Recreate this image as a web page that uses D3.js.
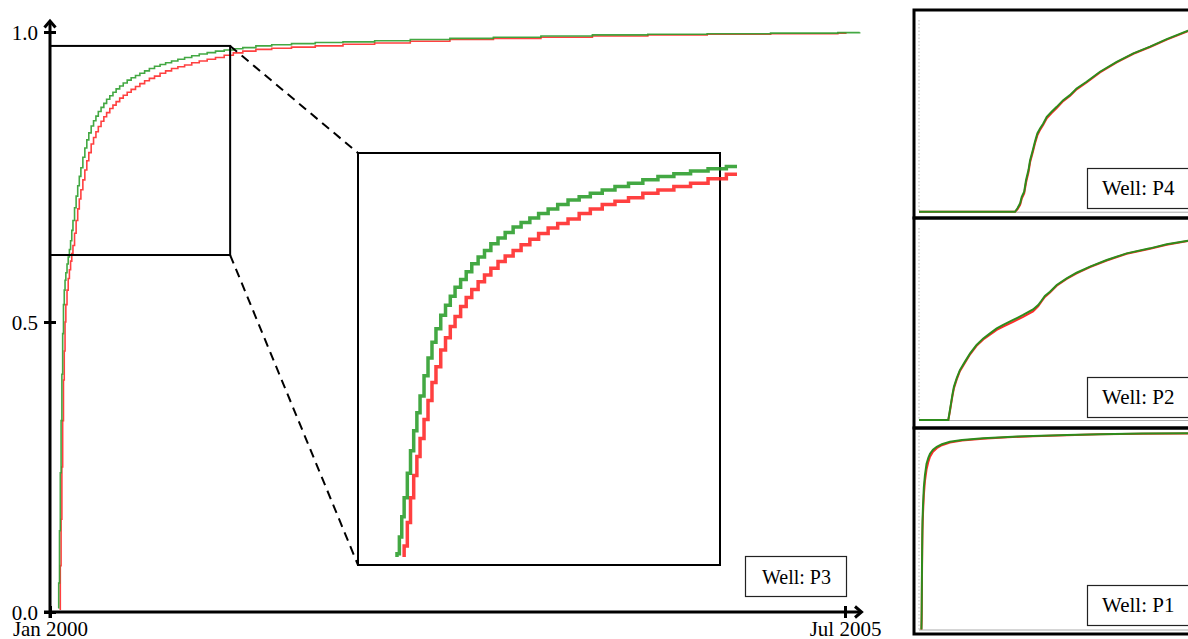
<!DOCTYPE html>
<html><head><meta charset="utf-8">
<script src="https://cdn.jsdelivr.net/npm/d3@7"></script>
<style>
body{margin:0;background:#fff}
svg{display:block}
svg text{font-family:"Liberation Serif","Tinos","Times New Roman","Times","Nimbus Roman","DejaVu Serif",serif !important;fill:#000}
</style>
</head><body>
<svg id="c" width="1188" height="639"></svg>
<script>
// ---------- DATA ----------
// Well P3 (main chart): day offsets from 1 Jan 2000 and cumulative values
const p3Days = [21,22,24,26,28,30,32,34,36,38,
  40,43,46,49,52,55,58,62,66,70,
  74,78,83,88,93,98,104,110,116,122,
  129,136,143,151,159,167,176,185,195,205,
  216,227,239,251,264,278,292,307,323,340,
  358,377,397,418,440,463,487,520,560,610,
  670,740,820,910,1010,1120,1240,1370,1510,1660,
  1820,1990,2010,2045];
const p3Green = [.007,.05,.14,.24,.33,.41,.48,.53,.555,.572,
  .585,.60,.612,.625,.640,.658,.675,.697,.717,.735,
  .751,.766,.784,.80,.814,.826,.838,.847,.855,.863,
  .870,.877,.884,.890,.896,.902,.907,.912,.917,.921,
  .925,.929,.933,.937,.941,.944,.947,.950,.953,.956,
  .959,.962,.9645,.967,.969,.971,.973,.976,.978,.980,
  .982,.983,.985,.987,.989,.991,.993,.995,.996,.997,
  .998,.999,.999,.9995];
const p3Red = [null,null,.005,.08,.16,.25,.33,.40,.45,.50,
  .53,.555,.575,.59,.605,.618,.632,.653,.675,.695,
  .712,.728,.745,.762,.778,.792,.807,.818,.828,.837,
  .846,.854,.861,.868,.874,.880,.886,.891,.896,.901,
  .906,.911,.916,.920,.924,.929,.933,.937,.940,.943,
  .947,.950,.953,.956,.960,.964,.967,.970,.972,.974,
  .976,.979,.981,.984,.987,.989,.991,.993,.995,.996,
  .997,.998,.9985,null];

// Side panels
const p4Days = [0,357,366,376,382,391,398,407,413,423,431,440,450,462,475,493,512,536,561,586,623,673,735,797,859,921,1000,1060];
const p4Green = [0,0,.018,.044,.078,.104,.165,.217,.269,.321,.365,.408,.434,.460,.495,.521,.547,.582,.608,.643,.678,.730,.782,.826,.861,.900,.944,.97];
const p4Red = [0,0,.012,.036,.068,.095,.152,.205,.258,.310,.356,.398,.427,.453,.487,.514,.541,.577,.603,.638,.674,.727,.779,.824,.859,.898,.942,.968];

const p2Days = [0,109,115,119,124,130,140,152,171,190,214,239,264,289,313,350,387,424,443,455,468,487,512,549,586,636,698,772,859,921,1000,1060];
const p2Green = [0,0,.052,.087,.130,.174,.217,.260,.304,.347,.391,.425,.451,.477,.495,.521,.547,.576,.599,.621,.646,.668,.703,.738,.767,.799,.833,.868,.894,.915,.934,.95];
const p2Red = [0,0,.045,.080,.122,.166,.210,.254,.298,.342,.386,.419,.444,.469,.486,.511,.537,.566,.592,.616,.641,.664,.699,.735,.764,.797,.831,.866,.892,.913,.932,.948];

const p1Days = [9,10,11,12,13,15,18,22,28,35,41,52,66,85,115,160,238,330,424,550,673,830,1000,1060];
const p1Green = [0,.1,.3,.45,.55,.63,.72,.78,.84,.87,.89,.91,.925,.938,.951,.96,.968,.975,.98,.985,.989,.992,.994,.995];
const p1Red = [0,.05,.25,.40,.50,.59,.68,.75,.81,.85,.875,.90,.918,.933,.947,.957,.966,.973,.979,.984,.988,.991,.993,.994];

const yTicks = [0, 0.5, 1.0];
const xTickDates = ["2000-01-01", "2005-07-01"];
const xTickLabels = ["Jan 2000", "Jul 2005"];
const zoomDays = [0, 455];          // zoomed window (days)
const zoomVals = [0.6155, 0.976];   // zoomed window (values)
const insetVals = [0.615, 0.983];
const wellMain = "Well: P3";
const panelWells = ["Well: P4", "Well: P2", "Well: P1"];

// ---------- SETUP ----------
const FONT = "'Liberation Serif','Tinos','Times New Roman',Times,'DejaVu Serif',serif";
const GREEN = "#2f9e2f", RED = "#ff2b2b";
const svg = d3.select("#c");
const parse = d3.timeParse("%Y-%m-%d");
const t0 = parse("2000-01-01");
const toDate = d => d3.timeDay.offset(t0, d);

const x = d3.scaleTime().domain([t0, parse("2005-07-01")]).range([50, 845]);
const y = d3.scaleLinear().domain([0, 1]).range([612, 32]);

const p3 = p3Days.map((d, i) => ({t: toDate(d), g: p3Green[i], r: p3Red[i]}));
const mk = (xs, ys, key, curve) => d3.line()
  .defined(d => d[key] != null)
  .x(d => xs(d.t)).y(d => ys(d[key]))
  .curve(curve || d3.curveStepAfter);

const defs = svg.append("defs");

// ---------- MAIN CURVES ----------
svg.append("path").datum(p3).attr("d", mk(x, y, "r"))
  .attr("fill", "none").attr("stroke", RED).attr("stroke-width", 1.6).attr("opacity", 0.9);
svg.append("path").datum(p3).attr("d", mk(x, y, "g"))
  .attr("fill", "none").attr("stroke", GREEN).attr("stroke-width", 1.6).attr("opacity", 0.9);

// ---------- AXES ----------
const gy = svg.append("g").attr("transform", "translate(50,0)")
  .call(d3.axisLeft(y).tickValues(yTicks).tickFormat(d3.format(".1f")).tickSizeInner(6).tickSizeOuter(0));
gy.attr("font-family", FONT).attr("font-size", 21);
gy.select(".domain").remove();
gy.selectAll(".tick line").attr("x1", -6).attr("x2", 6).attr("stroke", "#000").attr("stroke-width", 3);
gy.selectAll(".tick text").attr("x", -12).attr("dy", "0.35em").attr("fill", "#000").style("font-family", FONT);

const gx = svg.append("g").attr("transform", "translate(0,612)")
  .call(d3.axisBottom(x).tickValues(xTickDates.map(parse)).tickFormat((d, i) => xTickLabels[i]).tickSizeInner(6).tickSizeOuter(0));
gx.attr("font-family", FONT).attr("font-size", 21);
gx.select(".domain").remove();
gx.selectAll(".tick line").attr("y1", -6).attr("y2", 6).attr("stroke", "#000").attr("stroke-width", 3);
gx.selectAll(".tick text").attr("y", 24).attr("dy", 0).attr("fill", "#000").style("font-family", FONT);

svg.append("line").attr("x1", 50).attr("y1", 618).attr("x2", 50).attr("y2", 21)
  .attr("stroke", "#000").attr("stroke-width", 3);
svg.append("line").attr("x1", 44).attr("y1", 612).attr("x2", 861).attr("y2", 612)
  .attr("stroke", "#000").attr("stroke-width", 3);
svg.append("polyline").attr("points", "44.5,27.5 50,21 55.5,27.5")
  .attr("fill", "none").attr("stroke", "#000").attr("stroke-width", 3);
svg.append("polyline").attr("points", "855,606.5 861.5,612 855,617.5")
  .attr("fill", "none").attr("stroke", "#000").attr("stroke-width", 3);

// ---------- ZOOM BOX + INSET ----------
const bx0 = x(toDate(zoomDays[0])), bx1 = x(toDate(zoomDays[1]));
const by0 = y(zoomVals[1]), by1 = y(zoomVals[0]);
svg.append("rect").attr("x", bx0).attr("y", by0).attr("width", bx1 - bx0).attr("height", by1 - by0)
  .attr("fill", "none").attr("stroke", "#000").attr("stroke-width", 2);

const IN = {x: 358, y: 153, w: 362, h: 412};
svg.append("line").attr("x1", bx1).attr("y1", by0).attr("x2", IN.x).attr("y2", IN.y)
  .attr("stroke", "#000").attr("stroke-width", 2).attr("stroke-dasharray", "9,6");
svg.append("line").attr("x1", bx1).attr("y1", by1).attr("x2", IN.x).attr("y2", IN.y + IN.h)
  .attr("stroke", "#000").attr("stroke-width", 2).attr("stroke-dasharray", "9,6");
svg.append("rect").attr("x", IN.x).attr("y", IN.y).attr("width", IN.w).attr("height", IN.h)
  .attr("fill", "#fff").attr("stroke", "#000").attr("stroke-width", 2);

const xi = d3.scaleTime().domain([toDate(zoomDays[0]), toDate(zoomDays[1])]).range([IN.x, IN.x + IN.w]);
const yi = d3.scaleLinear().domain(insetVals).range([IN.y + IN.h, IN.y]);
defs.append("clipPath").attr("id", "clipIn").append("rect")
  .attr("x", IN.x).attr("y", IN.y - 2).attr("width", IN.w + 17).attr("height", IN.h - 6);
const gi = svg.append("g").attr("clip-path", "url(#clipIn)");
gi.append("path").datum(p3).attr("d", mk(xi, yi, "r"))
  .attr("fill", "none").attr("stroke", RED).attr("stroke-width", 3.5).attr("opacity", 0.9);
gi.append("path").datum(p3).attr("d", mk(xi, yi, "g"))
  .attr("fill", "none").attr("stroke", GREEN).attr("stroke-width", 3.5).attr("opacity", 0.9);

// main legend
svg.append("rect").attr("x", 745.5).attr("y", 556.5).attr("width", 101).attr("height", 40)
  .attr("fill", "#fff").attr("stroke", "#222").attr("stroke-width", 1.2);
svg.append("text").attr("x", 762).attr("y", 584).attr("font-size", 20)
  .style("font-family", FONT).text(wellMain);

// ---------- SIDE PANELS ----------
const panels = [
  {top: 10, bot: 218, yT: 20, yB: 211.7, days: p4Days, g: p4Green, r: p4Red, lab: panelWells[0], ly: 168},
  {top: 218, bot: 428, yT: 228, yB: 420, days: p2Days, g: p2Green, r: p2Red, lab: panelWells[1], ly: 377},
  {top: 428, bot: 634, yT: 432, yB: 629.5, days: p1Days, g: p1Green, r: p1Red, lab: panelWells[2], ly: 585}
];
const xp = d3.scaleLinear().domain([0, 1000]).range([919, 1188]);
panels.forEach((p, k) => {
  const yp = d3.scaleLinear().domain([0, 1]).range([p.yB, p.yT]);
  const data = p.days.map((d, i) => ({t: d, g: p.g[i], r: p.r[i]}));
  defs.append("clipPath").attr("id", "clipP" + k).append("rect")
    .attr("x", 915).attr("y", p.top + 2).attr("width", 280).attr("height", p.bot - p.top - 3);
  const g = svg.append("g").attr("clip-path", "url(#clipP" + k + ")");
  g.append("line").attr("x1", 919).attr("x2", 919).attr("y1", p.yT).attr("y2", p.yB)
    .attr("stroke", "#bbb").attr("stroke-width", 1).attr("stroke-dasharray", "1.5,2");
  g.append("line").attr("x1", 919).attr("x2", 1190).attr("y1", p.yB + 0.5).attr("y2", p.yB + 0.5)
    .attr("stroke", "#aaa").attr("stroke-width", 1);
  g.append("path").datum(data).attr("d", mk(xp, yp, "r", d3.curveLinear))
    .attr("fill", "none").attr("stroke", RED).attr("stroke-width", 2);
  g.append("path").datum(data).attr("d", mk(xp, yp, "g", d3.curveLinear))
    .attr("fill", "none").attr("stroke", "#2d8c1c").attr("stroke-width", 2);
  svg.append("rect").attr("x", 914).attr("y", p.top).attr("width", 290).attr("height", p.bot - p.top)
    .attr("fill", "none").attr("stroke", "#000").attr("stroke-width", 3);
  svg.append("rect").attr("x", 1087.5).attr("y", p.ly + 0.5).attr("width", 103).attr("height", 40)
    .attr("fill", "#fff").attr("stroke", "#222").attr("stroke-width", 1.2);
  svg.append("text").attr("x", 1102).attr("y", p.ly + 27).attr("font-size", 21)
    .style("font-family", FONT).text(p.lab);
});
</script>
</body></html>
